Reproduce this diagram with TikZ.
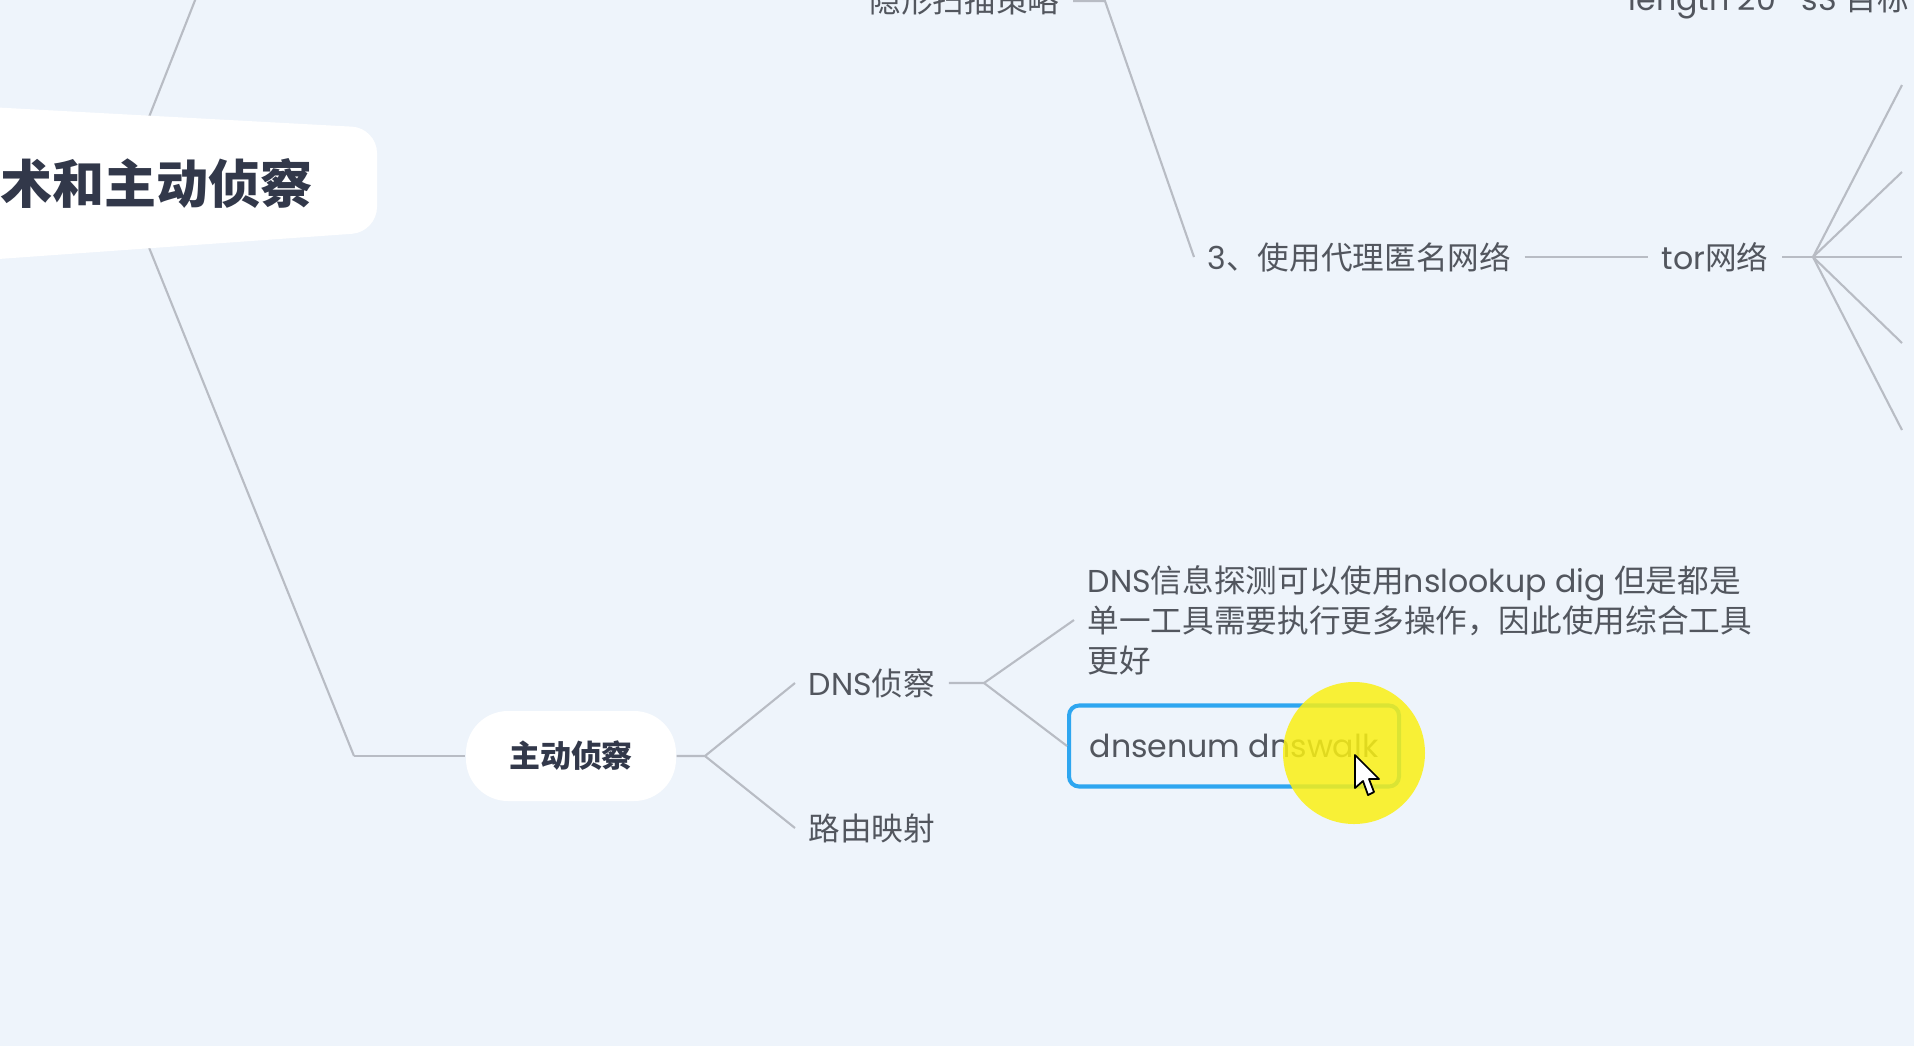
\documentclass[tikz,border=0pt]{standalone}
\usepackage{fontspec}
\setmainfont{Noto Sans CJK SC}
\newfontfamily\latin{Poppins}
\usepackage{tikz}
\usetikzlibrary{positioning}
\definecolor{bgblue}{RGB}{238,244,251}
\definecolor{linegray}{RGB}{184,188,196}
\definecolor{txtgray}{RGB}{82,86,94}
\definecolor{titledark}{RGB}{50,56,74}
\definecolor{selblue}{RGB}{46,166,240}
\definecolor{hilite}{RGB}{250,240,20}

\begin{document}
\begin{tikzpicture}[x=0.1mm,y=-0.1mm,
    link/.style={draw=linegray, line width=0.6pt},
    topic/.style={text=txtgray, font=\fontsize{9}{11.4}\selectfont, inner sep=1.3mm},
    blob/.style={fill=white, rounded corners=4.2mm, text=titledark,
        font=\fontsize{8.8}{10}\selectfont\bfseries,
        minimum width=21mm, minimum height=9mm, inner sep=0pt},
    selbox/.style={topic, draw=selblue, line width=1.15pt, rounded corners=1mm,
        minimum width=33mm, minimum height=8.1mm, inner xsep=2mm}]

    \useasboundingbox (0,0) rectangle (1914,1046);
    \clip (0,0) rectangle (1914,1046);
    \fill[bgblue] (0,0) rectangle (1914,1046);

    \coordinate (rootc) at (123,183);
    \coordinate (upend) at (205,-25);
    \coordinate (bend) at (354,756);
    \coordinate (acthub) at (705,756);
    \coordinate (dnshub) at (984,683);
    \coordinate (stealthhub) at (1105,1);
    \coordinate (torhub) at (1813,257);

    \draw[link] (upend) -- (rootc) -- (bend);

    % root topic, cut off at the left edge
    \fill[white, rounded corners=2.5mm]
        (-30,106) -- (377,128) -- (377,232) -- (-30,261) -- cycle;
    \node[anchor=east, inner sep=0pt, text=titledark,
        font=\fontsize{14.8}{16}\selectfont\bfseries] (root) at (313,183) {术和主动侦察};

    \node[blob] (act) at (571,756) {主动侦察};
    \draw[link] (bend) -- (act);

    \node[topic, anchor=west] (dns) at (795,683) {{\latin DNS}侦察};
    \node[topic, anchor=west] (route) at (795,828) {路由映射};
    \draw[link] (act.east) -- (acthub) -- (dns.west);
    \draw[link] (acthub) -- (route.west);

    \node[topic, anchor=west, align=left] (dnsinfo) at (1074,620)
        {{\latin DNS}信息探测可以使用{\latin nslookup dig }但是都是\\
         单一工具需要执行更多操作，因此使用综合工具\\
         更好};
    \node[selbox, anchor=west] (dnstool) at (1067,746) {\latin dnsenum dnswalk};
    \draw[link] (dns.east) -- (dnshub) -- (dnsinfo.west);
    \draw[link] (dnshub) -- (dnstool.west);

    % upper branch
    \node[topic, anchor=east] (stealth) at (1073,1) {隐形扫描策略};
    \node[topic, anchor=west] (lenopt) at (1615,1) {{\latin length 20 -sS }目标};
    \node[topic, anchor=west] (proxy) at (1194,257) {{\latin 3}、使用代理匿名网络};
    \node[topic, anchor=west] (tor) at (1648,257) {{\latin tor}网络};
    \draw[link] (stealth.east) -- (stealthhub) -- (proxy.west);
    \draw[link] (proxy.east) -- (tor.west);
    \draw[link] (tor.east) -- (torhub);
    \foreach \y [count=\i] in {85,172,257,343,430}{
        \coordinate (fan\i) at (1902,\y);
        \draw[link] (torhub) -- (fan\i);
    }

    % pointer highlight
    \fill[hilite, fill opacity=0.85] (1354,753) circle [radius=7.1mm];
    \draw[fill=white, line width=0.5pt, line join=round] (1355,755) -- ++(0,33) -- ++(8,-7)
        -- ++(5,14) -- ++(6,-3) -- ++(-5,-13) -- ++(10,0) -- cycle;

\end{tikzpicture}
\end{document}
